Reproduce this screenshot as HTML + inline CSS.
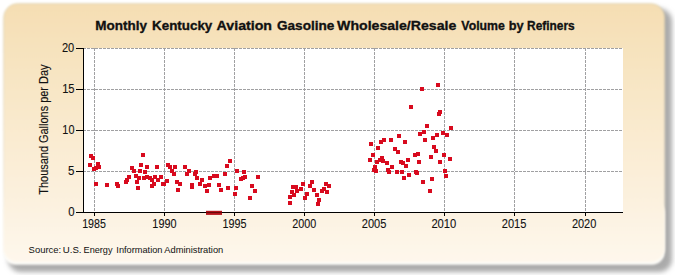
<!DOCTYPE html>
<html><head><meta charset="utf-8"><style>
html,body{margin:0;padding:0;background:#fff;width:675px;height:275px;overflow:hidden}
svg{display:block}
text{font-family:"Liberation Sans",sans-serif}
</style></head><body>
<svg width="675" height="275" viewBox="0 0 675 275">
<defs>
<linearGradient id="fg" x1="0" y1="0" x2="0" y2="1">
<stop offset="0" stop-color="#F5DEB3"/>
<stop offset="1" stop-color="#FEF7EC"/>
</linearGradient>
<linearGradient id="sg" x1="0" y1="0" x2="0" y2="1"><stop offset="0" stop-color="#c8c0a0" stop-opacity="0.45"/><stop offset="0.7" stop-color="#d8d0b8" stop-opacity="0.25"/><stop offset="1" stop-color="#ffffff" stop-opacity="0"/></linearGradient>
<filter id="sh" x="-10%" y="-10%" width="120%" height="120%"><feGaussianBlur stdDeviation="2.8"/></filter>
<filter id="sf" x="-5%" y="-5%" width="110%" height="110%"><feGaussianBlur stdDeviation="0.9"/></filter>
<filter id="sw" x="-10%" y="-10%" width="120%" height="120%"><feGaussianBlur stdDeviation="1.3"/></filter>
</defs>
<rect x="8" y="8.5" width="664" height="263.5" rx="13" ry="13" fill="#aaaaaa" filter="url(#sh)"/>
<rect x="2.75" y="200" width="662" height="64.75" rx="13" ry="13" fill="#fdfcf8" filter="url(#sw)"/>
<rect x="3.6" y="3.6" width="661.1" height="258.4" rx="14" ry="14" fill="url(#fg)" stroke="url(#sg)" stroke-width="1" filter="url(#sf)"/>
<rect x="84" y="48" width="539" height="164" fill="#fff"/>
<g stroke="#a0a0a2" stroke-width="1" stroke-dasharray="3 1" fill="none">
<line x1="94.5" y1="48" x2="94.5" y2="212"/><line x1="164.5" y1="48" x2="164.5" y2="212"/><line x1="234.5" y1="48" x2="234.5" y2="212"/><line x1="304.5" y1="48" x2="304.5" y2="212"/><line x1="374.5" y1="48" x2="374.5" y2="212"/><line x1="444.5" y1="48" x2="444.5" y2="212"/><line x1="514.5" y1="48" x2="514.5" y2="212"/><line x1="585.5" y1="48" x2="585.5" y2="212"/><line x1="83" y1="48.5" x2="623" y2="48.5"/><line x1="83" y1="89.5" x2="623" y2="89.5"/><line x1="83" y1="130.5" x2="623" y2="130.5"/><line x1="83" y1="171.5" x2="623" y2="171.5"/>
</g>
<g fill="#D80A1E">
<rect x="89" y="154" width="4" height="4"/><rect x="91" y="156" width="4" height="4"/><rect x="88" y="163" width="4" height="4"/><rect x="96" y="162" width="4" height="4"/><rect x="97" y="165" width="4" height="4"/><rect x="92" y="167" width="4" height="4"/><rect x="94" y="166" width="4" height="4"/><rect x="94" y="182" width="4" height="4"/><rect x="105" y="183" width="4" height="4"/><rect x="115" y="182" width="4" height="4"/><rect x="116" y="184" width="4" height="4"/><rect x="127" y="175" width="4" height="4"/><rect x="124" y="180" width="4" height="4"/><rect x="130" y="166" width="4" height="4"/><rect x="132" y="169" width="4" height="4"/><rect x="134" y="174" width="4" height="4"/><rect x="137" y="176" width="4" height="4"/><rect x="135" y="180" width="4" height="4"/><rect x="136" y="186" width="4" height="4"/><rect x="138" y="169" width="4" height="4"/><rect x="139" y="163" width="4" height="4"/><rect x="141" y="153" width="4" height="4"/><rect x="143" y="170" width="4" height="4"/><rect x="142" y="176" width="4" height="4"/><rect x="145" y="165" width="4" height="4"/><rect x="145" y="175" width="4" height="4"/><rect x="148" y="176" width="4" height="4"/><rect x="150" y="178" width="4" height="4"/><rect x="150" y="184" width="4" height="4"/><rect x="152" y="182" width="4" height="4"/><rect x="153" y="175" width="4" height="4"/><rect x="155" y="165" width="4" height="4"/><rect x="156" y="178" width="4" height="4"/><rect x="159" y="175" width="4" height="4"/><rect x="161" y="182" width="4" height="4"/><rect x="162" y="182" width="4" height="4"/><rect x="165" y="179" width="4" height="4"/><rect x="166" y="163" width="4" height="4"/><rect x="168" y="165" width="4" height="4"/><rect x="173" y="165" width="4" height="4"/><rect x="170" y="169" width="4" height="4"/><rect x="172" y="172" width="4" height="4"/><rect x="175" y="180" width="4" height="4"/><rect x="178" y="182" width="4" height="4"/><rect x="176" y="188" width="4" height="4"/><rect x="183" y="165" width="4" height="4"/><rect x="187" y="169" width="4" height="4"/><rect x="185" y="172" width="4" height="4"/><rect x="194" y="170" width="4" height="4"/><rect x="193" y="172" width="4" height="4"/><rect x="195" y="176" width="4" height="4"/><rect x="190" y="183" width="4" height="4"/><rect x="190" y="185" width="4" height="4"/><rect x="200" y="178" width="4" height="4"/><rect x="198" y="182" width="4" height="4"/><rect x="203" y="184" width="4" height="4"/><rect x="207" y="183" width="4" height="4"/><rect x="205" y="189" width="4" height="4"/><rect x="208" y="176" width="4" height="4"/><rect x="212" y="174" width="4" height="4"/><rect x="215" y="174" width="4" height="4"/><rect x="217" y="183" width="4" height="4"/><rect x="219" y="188" width="4" height="4"/><rect x="223" y="172" width="4" height="4"/><rect x="225" y="164" width="4" height="4"/><rect x="228" y="159" width="4" height="4"/><rect x="226" y="186" width="4" height="4"/><rect x="235" y="169" width="4" height="4"/><rect x="234" y="186" width="4" height="4"/><rect x="233" y="192" width="4" height="4"/><rect x="239" y="177" width="4" height="4"/><rect x="241" y="176" width="4" height="4"/><rect x="243" y="175" width="4" height="4"/><rect x="242" y="170" width="4" height="4"/><rect x="256" y="175" width="4" height="4"/><rect x="250" y="184" width="4" height="4"/><rect x="253" y="189" width="4" height="4"/><rect x="248" y="196" width="4" height="4"/><rect x="288" y="201" width="4" height="4"/><rect x="288" y="195" width="4" height="4"/><rect x="290" y="190" width="4" height="4"/><rect x="292" y="193" width="4" height="4"/><rect x="291" y="185" width="4" height="4"/><rect x="294" y="185" width="4" height="4"/><rect x="295" y="189" width="4" height="4"/><rect x="299" y="187" width="4" height="4"/><rect x="301" y="182" width="4" height="4"/><rect x="305" y="192" width="4" height="4"/><rect x="303" y="196" width="4" height="4"/><rect x="310" y="180" width="4" height="4"/><rect x="308" y="184" width="4" height="4"/><rect x="312" y="188" width="4" height="4"/><rect x="315" y="193" width="4" height="4"/><rect x="317" y="198" width="4" height="4"/><rect x="316" y="202" width="4" height="4"/><rect x="320" y="189" width="4" height="4"/><rect x="324" y="182" width="4" height="4"/><rect x="327" y="184" width="4" height="4"/><rect x="325" y="190" width="4" height="4"/><rect x="322" y="187" width="4" height="4"/><rect x="436" y="83" width="4" height="4"/><rect x="420" y="87" width="4" height="4"/><rect x="409" y="105" width="4" height="4"/><rect x="438" y="110" width="4" height="4"/><rect x="437" y="112" width="4" height="4"/><rect x="425" y="124" width="4" height="4"/><rect x="449" y="126" width="4" height="4"/><rect x="422" y="130" width="4" height="4"/><rect x="418" y="132" width="4" height="4"/><rect x="397" y="134" width="4" height="4"/><rect x="435" y="133" width="4" height="4"/><rect x="441" y="131" width="4" height="4"/><rect x="445" y="133" width="4" height="4"/><rect x="369" y="142" width="4" height="4"/><rect x="376" y="146" width="4" height="4"/><rect x="371" y="153" width="4" height="4"/><rect x="368" y="158" width="4" height="4"/><rect x="379" y="140" width="4" height="4"/><rect x="382" y="138" width="4" height="4"/><rect x="389" y="138" width="4" height="4"/><rect x="403" y="140" width="4" height="4"/><rect x="393" y="147" width="4" height="4"/><rect x="396" y="150" width="4" height="4"/><rect x="380" y="156" width="4" height="4"/><rect x="378" y="158" width="4" height="4"/><rect x="375" y="160" width="4" height="4"/><rect x="381" y="159" width="4" height="4"/><rect x="385" y="161" width="4" height="4"/><rect x="406" y="158" width="4" height="4"/><rect x="413" y="153" width="4" height="4"/><rect x="416" y="152" width="4" height="4"/><rect x="423" y="138" width="4" height="4"/><rect x="431" y="136" width="4" height="4"/><rect x="435" y="133" width="4" height="4"/><rect x="432" y="145" width="4" height="4"/><rect x="434" y="149" width="4" height="4"/><rect x="429" y="155" width="4" height="4"/><rect x="442" y="153" width="4" height="4"/><rect x="448" y="157" width="4" height="4"/><rect x="373" y="165" width="4" height="4"/><rect x="372" y="168" width="4" height="4"/><rect x="374" y="169" width="4" height="4"/><rect x="390" y="165" width="4" height="4"/><rect x="386" y="168" width="4" height="4"/><rect x="387" y="170" width="4" height="4"/><rect x="395" y="170" width="4" height="4"/><rect x="400" y="170" width="4" height="4"/><rect x="399" y="160" width="4" height="4"/><rect x="401" y="161" width="4" height="4"/><rect x="404" y="164" width="4" height="4"/><rect x="407" y="173" width="4" height="4"/><rect x="402" y="176" width="4" height="4"/><rect x="417" y="160" width="4" height="4"/><rect x="414" y="170" width="4" height="4"/><rect x="415" y="171" width="4" height="4"/><rect x="421" y="180" width="4" height="4"/><rect x="430" y="177" width="4" height="4"/><rect x="438" y="160" width="4" height="4"/><rect x="443" y="169" width="4" height="4"/><rect x="444" y="174" width="4" height="4"/><rect x="428" y="189" width="4" height="4"/><rect x="125" y="178" width="4" height="4"/>
</g>
<g stroke="#000" stroke-width="1" fill="none" shape-rendering="crispEdges">
<line x1="83.5" y1="48" x2="83.5" y2="213"/>
<line x1="83" y1="212.5" x2="623" y2="212.5"/>
<line x1="94.5" y1="212" x2="94.5" y2="216"/><line x1="164.5" y1="212" x2="164.5" y2="216"/><line x1="234.5" y1="212" x2="234.5" y2="216"/><line x1="304.5" y1="212" x2="304.5" y2="216"/><line x1="374.5" y1="212" x2="374.5" y2="216"/><line x1="444.5" y1="212" x2="444.5" y2="216"/><line x1="514.5" y1="212" x2="514.5" y2="216"/><line x1="585.5" y1="212" x2="585.5" y2="216"/><line x1="76" y1="48.5" x2="84" y2="48.5"/><line x1="76" y1="89.5" x2="84" y2="89.5"/><line x1="76" y1="130.5" x2="84" y2="130.5"/><line x1="76" y1="171.5" x2="84" y2="171.5"/><line x1="76" y1="212.5" x2="84" y2="212.5"/>
</g>
<rect x="206" y="210.8" width="16" height="4.1" fill="#b3121a"/>
<rect x="206" y="212" width="16" height="1" fill="#6a0808"/>
<g font-size="12" fill="#111" stroke="#111" stroke-width="0.1">
<text x="82.15" y="227.7" textLength="23.70" lengthAdjust="spacingAndGlyphs">1985</text><text x="152.35" y="227.7" textLength="24.16" lengthAdjust="spacingAndGlyphs">1990</text><text x="222.45" y="227.7" textLength="24.01" lengthAdjust="spacingAndGlyphs">1995</text><text x="292.20" y="227.7" textLength="23.93" lengthAdjust="spacingAndGlyphs">2000</text><text x="361.80" y="227.7" textLength="24.59" lengthAdjust="spacingAndGlyphs">2005</text><text x="431.40" y="227.7" textLength="24.93" lengthAdjust="spacingAndGlyphs">2010</text><text x="501.80" y="227.7" textLength="24.59" lengthAdjust="spacingAndGlyphs">2015</text><text x="571.90" y="227.7" textLength="24.43" lengthAdjust="spacingAndGlyphs">2020</text><text x="61.90" y="51.8" textLength="12.33" lengthAdjust="spacingAndGlyphs">20</text><text x="62.15" y="92.8" textLength="12.43" lengthAdjust="spacingAndGlyphs">15</text><text x="62.35" y="133.8" textLength="12.10" lengthAdjust="spacingAndGlyphs">10</text><text x="68.00" y="174.8" textLength="6.43" lengthAdjust="spacingAndGlyphs">5</text><text x="68.20" y="215.8" textLength="6.36" lengthAdjust="spacingAndGlyphs">0</text>
</g>
<text x="95.30" y="29.5" font-size="13.7" font-weight="bold" fill="#111" stroke="#111" stroke-width="0.35" textLength="51.63" lengthAdjust="spacingAndGlyphs">Monthly</text><text x="152.00" y="29.5" font-size="13.7" font-weight="bold" fill="#111" stroke="#111" stroke-width="0.35" textLength="60.32" lengthAdjust="spacingAndGlyphs">Kentucky</text><text x="216.60" y="29.5" font-size="13.7" font-weight="bold" fill="#111" stroke="#111" stroke-width="0.35" textLength="55.43" lengthAdjust="spacingAndGlyphs">Aviation</text><text x="277.00" y="29.5" font-size="13.7" font-weight="bold" fill="#111" stroke="#111" stroke-width="0.35" textLength="57.37" lengthAdjust="spacingAndGlyphs">Gasoline</text><text x="337.10" y="29.5" font-size="13.7" font-weight="bold" fill="#111" stroke="#111" stroke-width="0.35" textLength="119.20" lengthAdjust="spacingAndGlyphs">Wholesale/Resale</text><text x="461.35" y="29.5" font-size="13.7" font-weight="bold" fill="#111" stroke="#111" stroke-width="0.35" textLength="43.46" lengthAdjust="spacingAndGlyphs">Volume</text><text x="508.65" y="29.5" font-size="13.7" font-weight="bold" fill="#111" stroke="#111" stroke-width="0.35" textLength="14.92" lengthAdjust="spacingAndGlyphs">by</text><text x="527.05" y="29.5" font-size="13.7" font-weight="bold" fill="#111" stroke="#111" stroke-width="0.35" textLength="47.63" lengthAdjust="spacingAndGlyphs">Refiners</text>
<text transform="translate(47.8 194.7) rotate(-90)" x="0" y="0" font-size="12" fill="#111" stroke="#111" stroke-width="0.15" textLength="130.2" lengthAdjust="spacingAndGlyphs">Thousand Gallons per Day</text>
<text x="28.60" y="253" font-size="9.8" fill="#111" textLength="32.61" lengthAdjust="spacingAndGlyphs">Source:</text><text x="62.75" y="253" font-size="9.8" fill="#111" textLength="18.81" lengthAdjust="spacingAndGlyphs">U.S.</text><text x="83.55" y="253" font-size="9.8" fill="#111" textLength="28.93" lengthAdjust="spacingAndGlyphs">Energy</text><text x="116.35" y="253" font-size="9.8" fill="#111" textLength="46.14" lengthAdjust="spacingAndGlyphs">Information</text><text x="164.30" y="253" font-size="9.8" fill="#111" textLength="59.00" lengthAdjust="spacingAndGlyphs">Administration</text>
</svg>
</body></html>
